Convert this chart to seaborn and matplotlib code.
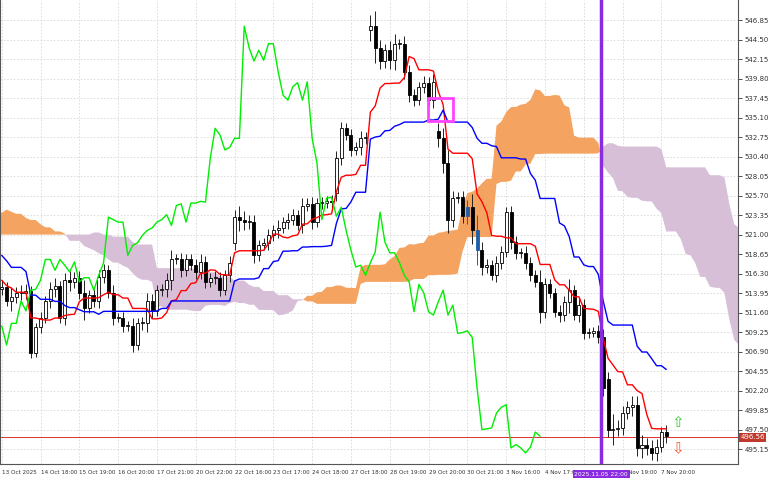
import numpy as np
import pandas as pd
import matplotlib
matplotlib.use("Agg")
import matplotlib.pyplot as plt
from matplotlib.patches import Rectangle
import seaborn as sns

# ---------------- data ----------------
pre_close = [515,516,515.5,517,518,517.5,519,520,519.5,521,
             522,521.5,523,522.5,524,525,524.5,526,527,526.5,
             526,527,526,525.5,526.5,525.5,526,525,524.5,525,
             524,523.5,524,523,522,522.5,521.5,521,521.5,520.5,
             520,520.5,519.5,519,519.5,518.5,519,518,517,517.5,
             517,516.5,516,516.5,515.5,515,515.5,514.5,515,514.5]
close = [514.7,513.0,513.5,514.0,514.0,514.2,506.7,509.9,511.0,513.0,
         514.5,514.8,511.0,515.5,515.3,515.8,514.0,512.2,513.7,513.0,
         515.9,516.7,514.0,511.0,511.0,510.0,510.0,507.7,510.3,510.3,
         513.0,511.8,514.3,514.4,515.5,518.0,518.0,516.7,518.0,517.3,
         516.5,517.7,515.3,515.8,515.8,514.3,516.1,517.6,523.1,522.8,
         522.5,522.5,518.5,519.7,520.0,520.9,521.5,521.8,522.5,522.8,
         523.4,522.1,524.5,524.7,522.5,524.8,524.8,525.0,524.9,530.2,
         533.8,533.0,531.2,531.5,532.6,532.6,546.1,543.5,541.9,543.2,
         542.0,544.0,544.0,540.6,537.8,537.2,538.8,539.3,537.2,539.4,
         532.6,529.6,522.8,525.4,525.5,523.2,524.3,521.5,519.1,517.1,
         517.3,516.1,517.6,518.9,523.7,520.1,518.8,518.8,517.6,516.1,
         515.3,511.7,515.0,514.0,511.7,511.3,512.9,514.3,511.3,512.5,
         509.1,509.2,509.4,508.6,502.5,497.5,497.6,497.7,499.5,500.2,
         500.5,495.3,495.7,495.3,494.7,495.4,497.2,496.7]
# opening prices of bars that opened with a gap (bar index -> open)
gap_bars = [48, 69, 76, 90, 124]
gap_opens = [520.0, 526.0, 545.6, 533.5, 503.6]
pre_wick = [0.8]*60
wick = [0.8,0.6,1.2,0.7,0.9,0.8,0.6,0.5,0.7,0.6,
        0.8,1.0,0.6,0.9,1.1,0.7,0.8,1.5,0.6,0.7,
        0.8,0.7,0.6,0.9,0.5,0.7,0.6,0.9,0.6,0.8,
        1.0,0.8,0.6,0.7,0.9,1.2,0.6,0.8,0.7,0.6,
        0.8,0.9,0.7,0.6,0.8,0.7,0.6,0.8,0.9,1.4,
        1.0,0.8,0.9,0.7,0.6,0.8,0.7,0.9,0.6,0.8,
        0.7,0.6,0.9,0.7,0.8,0.6,0.7,0.6,0.8,0.9,
        0.8,0.6,0.7,0.6,0.9,0.7,1.3,1.8,0.9,0.8,
        1.1,1.2,0.6,0.9,0.8,0.7,0.6,0.8,0.7,1.0,
        1.0,1.2,1.6,0.9,0.6,0.8,0.9,1.6,1.8,1.0,
        0.7,0.6,0.8,0.7,0.6,0.8,0.7,0.6,0.8,0.7,
        0.6,1.4,0.8,0.7,0.6,0.8,0.7,1.3,0.6,0.8,
        0.7,0.6,0.5,0.7,1.0,0.9,1.8,0.9,0.8,0.7,
        1.0,1.0,1.2,0.8,0.9,1.0,0.6,0.8]
blue_bars = [96, 98]
x_tick_labels = ["13 Oct 2025","14 Oct 18:00","15 Oct 19:00","16 Oct 20:00","17 Oct 21:00",
                 "20 Oct 22:00","22 Oct 16:00","23 Oct 17:00","24 Oct 18:00","27 Oct 18:00",
                 "28 Oct 19:00","29 Oct 20:00","30 Oct 21:00","3 Nov 16:00","4 Nov 17:00",
                 "5 Nov 18:00","6 Nov 19:00","7 Nov 20:00"]
y_ticks = [495.15,497.50,499.85,502.20,504.55,506.90,509.25,511.60,513.95,516.30,518.65,
           521.00,523.35,525.70,528.05,530.40,532.75,535.10,537.45,539.80,542.15,544.50,546.85]
current_price = 496.56
cursor_bar = 123.6
cursor_label = "2025.11.05 22:00"
box_bars = (87.9, 93.0)
box_prices = (534.7, 537.45)

# ---------------- indicators ----------------
allc = np.array(pre_close + close, dtype=float)
allw = np.array(pre_wick + wick, dtype=float)
npre = len(pre_close)
opn = np.r_[allc[0], allc[:-1]]
for b, o in zip(gap_bars, gap_opens):
    opn[b + 1 + npre] = o if b == 124 else opn[b + 1 + npre]
    if b != 124:
        opn[b + npre] = o
hi = np.maximum(opn, allc) + allw
lo = np.minimum(opn, allc) - allw
idx = np.arange(len(allc)) - npre
s_hi, s_lo = pd.Series(hi), pd.Series(lo)
tenkan = (s_hi.rolling(9, min_periods=1).max() + s_lo.rolling(9, min_periods=1).min()) / 2
kijun = (s_hi.rolling(26, min_periods=1).max() + s_lo.rolling(26, min_periods=1).min()) / 2
spanA = (tenkan + kijun) / 2
spanB = (s_hi.rolling(52, min_periods=1).max() + s_lo.rolling(52, min_periods=1).min()) / 2

sns.set_style("white")
fig = plt.figure(figsize=(7.68, 4.8), dpi=100)
ax = fig.add_axes([0.0, 0.033, 0.961, 0.967])

xmin, xmax = -0.35, 151.8
ymin, ymax = 493.34, 549.26
ax.set_xlim(xmin, xmax); ax.set_ylim(ymin, ymax)

xt = np.arange(0, 137, 8)
for v in xt:
    ax.axvline(v, color="#d8d8d8", lw=0.6, ls=(0, (2, 2)), zorder=0)
for v in y_ticks:
    ax.axhline(v, color="#d8d8d8", lw=0.6, ls=(0, (2, 2)), zorder=0)

cx = idx + 26
A = spanA.values; B = spanB.values
ax.fill_between(cx, A, B, where=A >= B, interpolate=True, color="#F4A460", lw=0, zorder=1)
ax.fill_between(cx, A, B, where=A < B, interpolate=True, color="#D8BFD8", lw=0, zorder=1)

for i in np.where(idx >= 0)[0]:
    b = idx[i]
    up = allc[i] >= opn[i]
    col = "#1f5fa8" if b in blue_bars else "black"
    ax.vlines(b, lo[i], hi[i], color=col if b in blue_bars else "#222222", lw=0.7, zorder=3)
    h = max(abs(allc[i] - opn[i]), 0.12)
    bot = min(allc[i], opn[i])
    fc = col if (not up or b in blue_bars) else "white"
    ax.bar(b, h, bottom=bot, width=0.62, color=fc, edgecolor=col, lw=0.6, zorder=4)

df = pd.DataFrame({"x": idx, "tenkan": tenkan, "kijun": kijun, "close": allc})
dv = df[df.x >= 0]
sns.lineplot(data=dv, x="x", y="tenkan", color="#ff0000", lw=1.0, ax=ax, zorder=5)
sns.lineplot(data=dv, x="x", y="kijun", color="#0000ff", lw=1.0, ax=ax, zorder=5)
ch = dv.copy(); ch["x"] = ch["x"] - 26
ch = ch[ch.x >= 0]
sns.lineplot(data=ch, x="x", y="close", color="#00ee00", lw=1.0, ax=ax, zorder=5)

ax.axvline(cursor_bar, color="#8a2be2", lw=2.5, zorder=6)
ax.axhline(current_price, color="#e03030", lw=0.7, zorder=2)
ax.add_patch(Rectangle((box_bars[0], box_prices[0]), box_bars[1] - box_bars[0],
                       box_prices[1] - box_prices[0], fill=False, ec="#ff44ff", lw=2, zorder=7))
ax.text(139.3, 498.3, "⇧", color="#33cc33", fontsize=11, ha="center", va="center", zorder=7)
ax.text(139.3, 495.2, "⇩", color="#ff5533", fontsize=11, ha="center", va="center", zorder=7)

ax.set_xlabel(""); ax.set_ylabel("")
ax.yaxis.tick_right()
ax.set_yticks(y_ticks)
ax.set_yticklabels([f"{v:.2f}" for v in y_ticks], fontsize=5)
ax.set_xticks(xt)
ax.set_xticklabels(x_tick_labels[:len(xt)], fontsize=4.1, ha="left")
ax.tick_params(axis="both", length=3, width=0.6, pad=1.5, colors="#333333")
ax.spines["top"].set_visible(False)
for s in ["left", "bottom", "right"]:
    ax.spines[s].set_color("#555555"); ax.spines[s].set_linewidth(0.8)

ax.text(1.003, (current_price - ymin) / (ymax - ymin), f"{current_price:.2f}", transform=ax.transAxes,
        fontsize=5, color="white", va="center", ha="left",
        bbox=dict(boxstyle="square,pad=0.25", fc="#c0392b", ec="none"))
ax.text(cursor_bar, ymin - 0.9, cursor_label, fontsize=4.3, color="white", ha="center", va="top",
        bbox=dict(boxstyle="square,pad=0.3", fc="#8a2be2", ec="none"), zorder=10, clip_on=False)

fig.savefig("out.png", dpi=100)
